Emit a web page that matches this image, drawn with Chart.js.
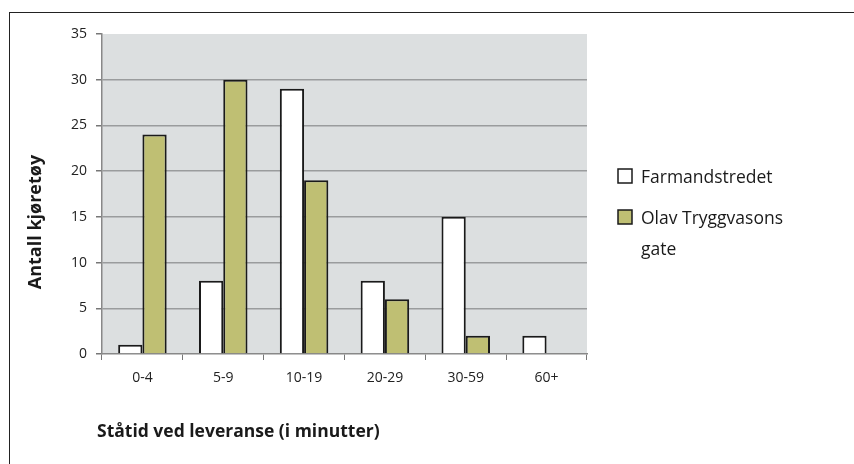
<!DOCTYPE html>
<html>
<head>
<meta charset="utf-8">
<script src="https://cdn.jsdelivr.net/npm/chart.js@4"></script>
<style>
  html, body { margin: 0; padding: 0; background: #fff; }
  #wrap { position: relative; width: 854px; height: 464px; }
  #frame { position: absolute; left: 9px; top: 12px; right: 0; bottom: 0;
           border-left: 1.5px solid #222; border-top: 1.5px solid #222; }
</style>
</head>
<body>
<div id="wrap">
  <div id="frame"></div>
  <canvas id="chartCanvas" width="854" height="464"></canvas>
</div>
<script>
const categories = ["0-4", "5-9", "10-19", "20-29", "30-59", "60+"];
const farmandstredet = [1, 8, 29, 8, 15, 2];
const olavTryggvasons = [24, 30, 19, 6, 2, null];
const seriesNames = ["Farmandstredet", "Olav Tryggvasons gate"];
const yTitle = "Antall kjøretøy";
const xTitle = "Ståtid ved leveranse (i minutter)";

const FONT = "'Open Sans', 'Noto Sans', sans-serif";
const OLIVE = "#bfbf73";

// grå bakgrunn i plottområdet
const plotBg = {
  id: "plotBg",
  beforeDraw(chart) {
    const { ctx, chartArea: a } = chart;
    ctx.save();
    ctx.fillStyle = "#dcdfe0";
    ctx.fillRect(a.left, a.top, a.right - a.left, a.bottom - a.top);
    ctx.restore();
  }
};

// titler og legende
const extras = {
  id: "extras",
  afterDraw(chart) {
    const ctx = chart.ctx;
    ctx.save();
    ctx.fillStyle = "#1a1a1a";
    ctx.font = "bold 17.5px " + FONT;
    ctx.textAlign = "left";
    ctx.textBaseline = "alphabetic";
    ctx.fillText(xTitle, 97, 437);

    ctx.save();
    ctx.translate(41, 222);
    ctx.rotate(-Math.PI / 2);
    ctx.textAlign = "center";
    ctx.font = "bold 18px " + FONT;
    ctx.fillText(yTitle, 0, 0);
    ctx.restore();

    // legende
    const items = [
      { color: "#ffffff", lines: ["Farmandstredet"], y: 169 },
      { color: OLIVE, lines: ["Olav Tryggvasons", "gate"], y: 210 }
    ];
    ctx.font = "17.5px " + FONT;
    items.forEach(it => {
      ctx.fillStyle = it.color;
      ctx.fillRect(618, it.y, 14, 14);
      ctx.strokeStyle = "#1a1a1a";
      ctx.lineWidth = 1.5;
      ctx.strokeRect(618, it.y, 14, 14);
      ctx.fillStyle = "#1a1a1a";
      it.lines.forEach((t, i) => ctx.fillText(t, 641, it.y + 14 + i * 31));
    });
    ctx.restore();
  }
};

new Chart(document.getElementById("chartCanvas"), {
  type: "bar",
  data: {
    labels: categories,
    datasets: [
      {
        label: seriesNames[0],
        data: farmandstredet,
        backgroundColor: "#ffffff",
        borderColor: "#1a1a1a",
        borderWidth: 2,
        borderSkipped: "bottom"
      },
      {
        label: seriesNames[1],
        data: olavTryggvasons,
        backgroundColor: OLIVE,
        borderColor: "#1a1a1a",
        borderWidth: 2,
        borderSkipped: "bottom"
      }
    ]
  },
  options: {
    responsive: false,
    animation: false,
    datasets: { bar: { categoryPercentage: 0.6, barPercentage: 1 } },
    layout: { padding: { left: 10, top: 34, right: 267, bottom: 0 } },
    plugins: {
      legend: { display: false },
      tooltip: { enabled: false }
    },
    scales: {
      x: {
        afterFit: s => { s.height = 110; },
        grid: {
          offset: true,
          drawOnChartArea: false,
          tickLength: 6,
          tickColor: "#777",
          color: "#777"
        },
        border: { color: "#888", width: 1.5 },
        ticks: { color: "#222", font: { family: FONT, size: 14 }, padding: 10 }
      },
      y: {
        min: 0,
        max: 35,
        afterFit: s => { s.width = 92; },
        ticks: { stepSize: 5, color: "#222", font: { family: FONT, size: 14 }, padding: 9 },
        grid: {
          tickLength: 6,
          tickColor: "#777",
          color: c => (c.tick && (c.tick.value === 35 || c.tick.value === 0)) ? "rgba(0,0,0,0)" : "#9a9c9d",
          lineWidth: 1.5
        },
        border: { color: "#888", width: 1.5 }
      }
    }
  },
  plugins: [plotBg, extras]
});
</script>
</body>
</html>
